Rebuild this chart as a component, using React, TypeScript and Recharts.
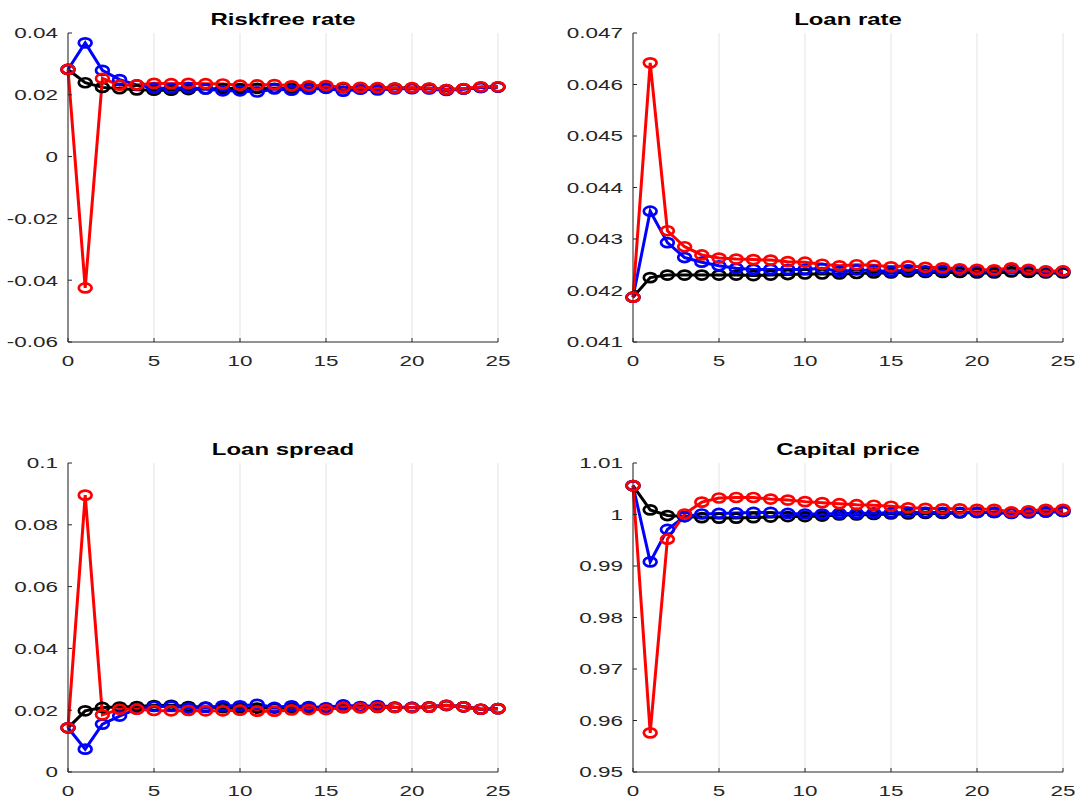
import React from 'react';
import { LineChart, Line, XAxis, YAxis, CartesianGrid } from 'recharts';

const periods = [0, 1, 2, 3, 4, 5, 6, 7, 8, 9, 10, 11, 12, 13, 14, 15, 16, 17, 18, 19, 20, 21, 22, 23, 24, 25];
const xTicks = [0, 5, 10, 15, 20, 25];

// Riskfree rate
const riskfreeBlack = [0.0282, 0.0239, 0.0224, 0.022, 0.0216, 0.0215, 0.0215, 0.0217, 0.0219, 0.022, 0.022, 0.0221, 0.0221, 0.0221, 0.0222, 0.0222, 0.0222, 0.0222, 0.0222, 0.0222, 0.0222, 0.0221, 0.0217, 0.0219, 0.0224, 0.0225];
const riskfreeBlue = [0.0282, 0.0368, 0.0279, 0.0249, 0.0232, 0.0222, 0.0221, 0.0223, 0.0219, 0.0213, 0.0213, 0.0209, 0.0219, 0.0215, 0.0218, 0.0221, 0.0212, 0.0218, 0.0216, 0.0219, 0.022, 0.0219, 0.0214, 0.0219, 0.0224, 0.0225];
const riskfreeRed = [0.0282, -0.0425, 0.0253, 0.0231, 0.0232, 0.0237, 0.0236, 0.0237, 0.0236, 0.0235, 0.0231, 0.0232, 0.0233, 0.0229, 0.0229, 0.023, 0.0224, 0.0224, 0.0223, 0.0222, 0.0223, 0.0222, 0.0217, 0.022, 0.0226, 0.0226];
const riskfreeTicks = [-0.06, -0.04, -0.02, 0, 0.02, 0.04];

// Loan rate
const loanRateBlack = [0.04187, 0.04225, 0.0423, 0.0423, 0.0423, 0.0423, 0.0423, 0.04229, 0.0423, 0.04231, 0.04232, 0.04232, 0.04232, 0.04233, 0.04234, 0.04234, 0.04236, 0.04235, 0.04235, 0.04235, 0.04234, 0.04234, 0.04236, 0.04235, 0.04234, 0.04234];
const loanRateBlue = [0.04187, 0.04354, 0.04293, 0.04264, 0.04255, 0.04248, 0.04243, 0.04241, 0.04241, 0.04241, 0.04241, 0.04243, 0.04237, 0.0424, 0.04239, 0.04237, 0.0424, 0.04238, 0.04239, 0.0424, 0.04238, 0.04238, 0.04242, 0.04239, 0.04237, 0.04237];
const loanRateRed = [0.04187, 0.04642, 0.04316, 0.04285, 0.04269, 0.04263, 0.04261, 0.0426, 0.04259, 0.04256, 0.04255, 0.04251, 0.04248, 0.0425, 0.04249, 0.04246, 0.04248, 0.04245, 0.04244, 0.04242, 0.04241, 0.0424, 0.04244, 0.04241, 0.04238, 0.04238];
const loanRateTicks = [0.041, 0.042, 0.043, 0.044, 0.045, 0.046, 0.047];

// Loan spread
const spreadBlack = [0.0143, 0.0198, 0.0209, 0.021, 0.0212, 0.0215, 0.0216, 0.0212, 0.021, 0.0208, 0.0208, 0.0207, 0.0207, 0.0207, 0.0207, 0.0207, 0.0208, 0.0208, 0.0209, 0.0209, 0.0209, 0.021, 0.0215, 0.0211, 0.0203, 0.0205];
const spreadBlue = [0.0143, 0.0074, 0.0155, 0.0181, 0.0204, 0.0212, 0.0213, 0.0207, 0.0209, 0.0214, 0.0214, 0.0219, 0.0209, 0.0214, 0.0212, 0.0208, 0.0217, 0.0212, 0.0215, 0.021, 0.0209, 0.0211, 0.0216, 0.0211, 0.0203, 0.0205];
const spreadRed = [0.0143, 0.0896, 0.0185, 0.0203, 0.0203, 0.0199, 0.0198, 0.0199, 0.0198, 0.0198, 0.02, 0.0197, 0.0197, 0.0201, 0.0202, 0.0202, 0.0209, 0.0208, 0.021, 0.0209, 0.0208, 0.021, 0.0216, 0.0211, 0.0203, 0.0205];
const spreadTicks = [0, 0.02, 0.04, 0.06, 0.08, 0.1];

// Capital price
const capitalBlack = [1.0056, 1.0009, 0.9998, 0.9996, 0.9994, 0.9993, 0.9993, 0.9994, 0.9995, 0.9996, 0.9996, 0.9997, 0.9999, 0.9999, 1.0, 1.0001, 1.0001, 1.0002, 1.0002, 1.0003, 1.0004, 1.0004, 1.0003, 1.0004, 1.0005, 1.0006];
const capitalBlue = [1.0056, 0.9908, 0.9971, 0.9996, 1.0001, 1.0002, 1.0003, 1.0004, 1.0004, 1.0002, 1.0001, 1.0001, 1.0002, 1.0002, 1.0003, 1.0003, 1.0004, 1.0004, 1.0004, 1.0004, 1.0004, 1.0004, 1.0002, 1.0003, 1.0005, 1.0006];
const capitalRed = [1.0056, 0.9576, 0.9952, 1.0001, 1.0024, 1.0032, 1.0033, 1.0033, 1.003, 1.0028, 1.0025, 1.0023, 1.0021, 1.0019, 1.0018, 1.0016, 1.0013, 1.0012, 1.0011, 1.0011, 1.001, 1.001, 1.0005, 1.0007, 1.001, 1.001];
const capitalTicks = [0.95, 0.96, 0.97, 0.98, 0.99, 1, 1.01];

const FONT = '"Liberation Sans", Arial, Helvetica, sans-serif';
const STRETCH = 1.45;
const AXIS = '#262626';

const fmt = (v: number) => String(Number(v.toFixed(4)));

const buildRows = (black: number[], blue: number[], red: number[]) =>
  periods.map((t, i) => ({ t, black: black[i], blue: blue[i], red: red[i] }));

const YTick = (props: any) => {
  const { x, y, payload } = props;
  return (
    <g transform={`translate(${x},${y})`}>
      <line x1={10} x2={14} y1={0} y2={0} stroke={AXIS} strokeWidth={1} />
      <text textAnchor="end" dy="0.35em" transform={`scale(${STRETCH},1)`} fill={AXIS} fontSize={15.5} fontFamily={FONT}>
        {fmt(payload.value)}
      </text>
    </g>
  );
};

const XTick = (props: any) => {
  const { x, y, payload } = props;
  return (
    <g transform={`translate(${x},${y})`}>
      <line x1={0} x2={0} y1={-13} y2={-17} stroke={AXIS} strokeWidth={1} />
      <text textAnchor="middle" dy="0.71em" transform={`scale(${STRETCH},1)`} fill={AXIS} fontSize={15.5} fontFamily={FONT}>
        {payload.value}
      </text>
    </g>
  );
};

const makeDot = (color: string) => (props: any) => (
  <ellipse
    key={`d-${color}-${props.index}`}
    cx={props.cx}
    cy={props.cy}
    rx={6.4}
    ry={4.5}
    fill="none"
    stroke={color}
    strokeWidth={2.7}
  />
);

type PanelProps = {
  title: string;
  rows: { t: number; black: number; blue: number; red: number }[];
  ticks: number[];
  left: number;
  top: number;
  width: number;
  height: number;
  yWidth: number;
  mTop: number;
  mRight: number;
  mBottom: number;
  xHeight: number;
};

function Panel({ title, rows, ticks, left, top, width, height, yWidth, mTop, mRight, mBottom, xHeight }: PanelProps) {
  const plotLeft = left + yWidth;
  const plotWidth = width - yWidth - mRight;
  const center = plotLeft + plotWidth / 2;
  return (
    <>
      <div
        style={{
          position: 'absolute',
          left: center - 150,
          top: top + mTop - 22,
          width: 300,
          textAlign: 'center',
          fontFamily: FONT,
          fontWeight: 'bold',
          fontSize: 16.5,
          lineHeight: '16px',
          color: '#000',
          transform: `scaleX(${STRETCH})`,
          whiteSpace: 'nowrap',
        }}
      >
        {title}
      </div>
      <div style={{ position: 'absolute', left, top }}>
        <LineChart width={width} height={height} data={rows} margin={{ top: mTop, right: mRight, bottom: mBottom, left: 0 }}>
          <CartesianGrid horizontal={false} stroke="#e3e3e3" strokeWidth={1} />
          <XAxis
            dataKey="t"
            type="number"
            domain={[0, 25]}
            ticks={xTicks}
            height={xHeight}
            tickSize={0}
            tickMargin={13}
            tick={<XTick />}
            axisLine={{ stroke: AXIS, strokeWidth: 1 }}
            interval={0}
          />
          <YAxis
            type="number"
            domain={[ticks[0], ticks[ticks.length - 1]]}
            ticks={ticks}
            width={yWidth}
            tickSize={0}
            tickMargin={10}
            tick={<YTick />}
            axisLine={{ stroke: AXIS, strokeWidth: 1 }}
            interval={0}
          />
          <Line dataKey="black" stroke="#000000" strokeWidth={3} dot={makeDot('#000000')} isAnimationActive={false} />
          <Line dataKey="blue" stroke="#0000ff" strokeWidth={3} dot={makeDot('#0000ff')} isAnimationActive={false} />
          <Line dataKey="red" stroke="#ff0000" strokeWidth={3} dot={makeDot('#ff0000')} isAnimationActive={false} />
        </LineChart>
      </div>
    </>
  );
}

export default function App() {
  return (
    <div style={{ position: 'absolute', left: 0, top: 0, width: 1077, height: 798, background: '#fff', overflow: 'hidden' }}>
      <Panel
        title="Riskfree rate"
        rows={buildRows(riskfreeBlack, riskfreeBlue, riskfreeRed)}
        ticks={riskfreeTicks}
        left={0} top={0} width={540} height={400}
        yWidth={68} mTop={33} mRight={42} mBottom={28} xHeight={30}
      />
      <Panel
        title="Loan rate"
        rows={buildRows(loanRateBlack, loanRateBlue, loanRateRed)}
        ticks={loanRateTicks}
        left={540} top={0} width={537} height={400}
        yWidth={93} mTop={33} mRight={14} mBottom={28} xHeight={30}
      />
      <Panel
        title="Loan spread"
        rows={buildRows(spreadBlack, spreadBlue, spreadRed)}
        ticks={spreadTicks}
        left={0} top={400} width={540} height={398}
        yWidth={68} mTop={63} mRight={42} mBottom={2} xHeight={24}
      />
      <Panel
        title="Capital price"
        rows={buildRows(capitalBlack, capitalBlue, capitalRed)}
        ticks={capitalTicks}
        left={540} top={400} width={537} height={398}
        yWidth={93} mTop={63} mRight={14} mBottom={2} xHeight={24}
      />
    </div>
  );
}
